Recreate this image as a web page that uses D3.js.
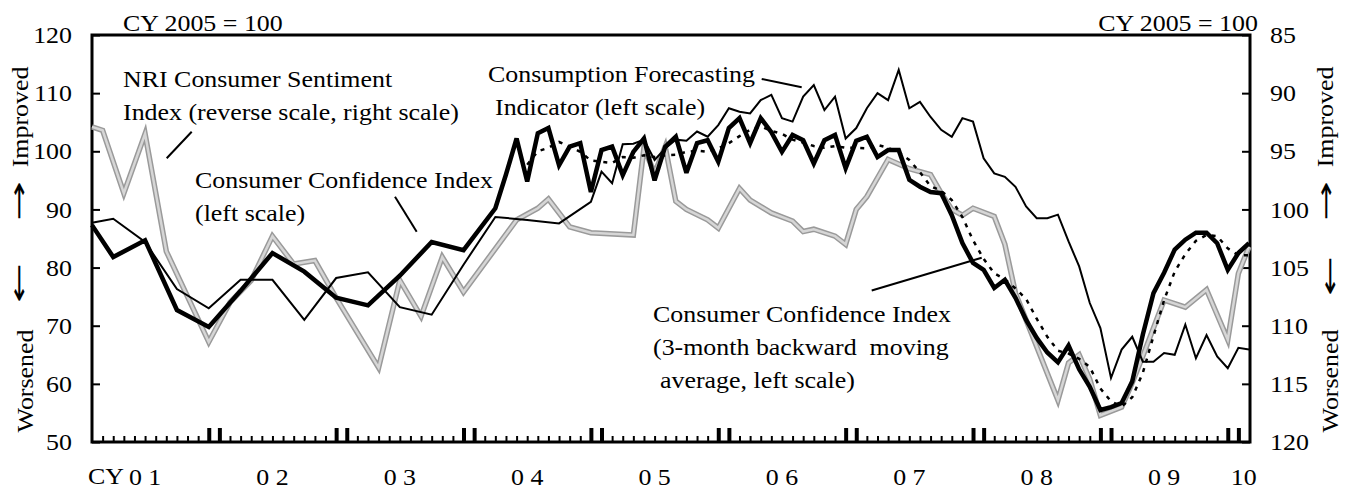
<!DOCTYPE html>
<html>
<head>
<meta charset="utf-8">
<script src="https://cdn.jsdelivr.net/npm/d3@7"></script>
<style>
  body { margin: 0; background: #fff; }
  svg { display: block; font-family: "Liberation Serif", "Times New Roman", serif; }
</style>
</head>
<body>
<div id="chart"></div>
<script>
const width = 1351;
const height = 491;

// month categories, Jan 2001 .. Feb 2010
const months = d3.timeMonth.range(new Date(2001, 0, 1), new Date(2010, 2, 1)).map(d3.timeFormat("%Y-%m"));

// year labels under the axis and the month they sit on
const yearLabels = ["0 1", "0 2", "0 3", "0 4", "0 5", "0 6", "0 7", "0 8", "0 9", "10"];
const yearLabelMonths = ["2001-06", "2002-06", "2003-06", "2004-06", "2005-06", "2006-06", "2007-06", "2008-06", "2009-06", "2010-01"];

const leftTicks = [50, 60, 70, 80, 90, 100, 110, 120];
const rightTicks = [85, 90, 95, 100, 105, 110, 115, 120];

// Consumer Confidence Index (quarterly until Mar 2004, monthly after)
const cci = [
  87.3, null, 81.8, null, null, 84.7, null, null, 72.7, null, null, 69.8,
  null, null, 76.0, null, null, 82.5, null, null, 79.3, null, null, 74.8,
  null, null, 73.5, null, null, 78.6, null, null, 84.4, null, null, 83.0,
  null, null, 90.2, 96.0, 102.2, 94.8, 103.1, 104.0, 97.6, 100.8, 101.4, 93.0,
  100.2, 100.8, 95.9, 99.9, 102.2, 95.0, 100.8, 102.5, 96.3, 101.4, 101.9, 98.2,
  104.0, 105.7, 101.4, 105.7, 103.3, 99.9, 102.8, 101.9, 97.9, 101.9, 102.8, 97.1,
  101.8, 102.5, 99.0, 100.2, 100.2, 95.1, 93.9, 93.0, 92.8, 89.0, 84.2, 80.8,
  79.6, 76.5, 77.9, 74.8, 71.0, 67.9, 65.4, 63.7, 66.6, 62.5, 59.5, 55.5,
  56.0, 56.7, 60.4, 68.5, 75.6, 79.1, 83.1, 84.8, 86.0, 86.0, 84.2, 79.6,
  82.5, 84.2
];

// Consumer Confidence Index, 3-month backward moving average
const cciAvg = [
  null, null, null, null, null, null, null, null, null, null, null, null,
  null, null, null, null, null, null, null, null, null, null, null, null,
  null, null, null, null, null, null, null, null, null, null, null, null,
  null, null, null, null, null, 97.7, 100.0, 100.6, 101.6, 100.8, 99.9, 98.4,
  98.2, 98.0, 99.0, 98.9, 99.3, 99.0, 99.3, 99.4, 99.9, 100.1, 99.9, 100.5,
  101.4, 102.6, 103.7, 104.3, 103.5, 103.0, 102.0, 101.5, 100.9, 100.6, 100.9, 100.6,
  100.6, 100.5, 101.1, 100.6, 99.8, 98.5, 96.4, 94.0, 93.2, 91.6, 88.7, 84.7,
  81.5, 79.0, 78.0, 76.4, 74.6, 71.2, 68.1, 65.7, 65.2, 64.3, 62.9, 59.2,
  57.0, 56.1, 57.7, 61.9, 68.2, 74.4, 79.3, 82.3, 84.6, 85.6, 85.4, 83.3,
  82.1, 82.1
];

// Consumption Forecasting Indicator
const cfi = [
  87.7, null, 88.4, null, null, 84.4, null, null, 76.3, null, null, 73.0,
  null, null, 77.9, null, null, 77.9, null, null, 71.0, null, null, 78.2,
  null, null, 79.2, null, null, 73.2, null, null, 71.9, null, null, 80.5,
  null, null, 88.7, null, null, 88.2, null, null, 87.6, null, null, 91.3,
  96.5, 94.5, 101.2, 101.3, 102.0, 98.5, 100.5, 102.0, 101.8, 103.4, 102.5, 104.5,
  107.4, 106.8, 106.5, 108.8, 109.7, 105.7, 105.1, 109.4, 111.4, 107.1, 109.4, 102.2,
  104.0, 107.4, 110.0, 108.8, 114.0, 107.4, 108.5, 105.9, 103.7, 102.5, 105.7, 105.1,
  98.8, 96.2, 95.6, 93.9, 90.5, 88.5, 88.5, 89.1, 84.5, 80.2, 73.9, 69.6,
  61.0, 65.9, 68.1, 63.8, 63.8, 65.3, 65.0, 70.2, 64.4, 68.4, 64.7, 62.7,
  66.2, 65.9
];

// NRI Consumer Sentiment Index (right scale, reversed)
const nri = [
  92.9, 93.2, null, 98.6, null, 93.5, null, 103.6, null, null, null, 111.4,
  null, 108.0, null, 106.1, null, 102.3, null, 104.7, null, 104.4, null, 107.6,
  null, null, null, 113.6, null, 106.1, null, 109.2, null, 104.1, null, 107.1,
  null, null, null, null, 100.9, null, 99.9, 99.1, null, 101.5, null, 102.0,
  null, null, null, 102.2, 94.7, 96.9, 94.6, 99.3, 100.0, null, 100.9, 101.6,
  null, 98.2, 99.2, null, 100.3, null, 101.0, 101.9, 101.7, null, 102.3, 103.0,
  100.0, 98.9, null, 95.7, null, 96.5, null, 97.0, 98.6, 100.0, 100.5, 99.9,
  null, 100.6, 103.0, 107.2, null, null, null, 116.4, 113.2, 112.5, 114.6, 117.7,
  null, 117.0, 114.9, 112.6, null, 107.8, null, 108.4, null, 106.9, null, 111.2,
  105.5, 103.2
];

const plot = { left: 92, right: 1250, top: 35, bottom: 442 };
const fontSize = 24;
const sx = 1.08; // the original type is a bit wider than Times

const x = d3.scalePoint().domain(months).range([plot.left, plot.right - 1]);
const yLeft = d3.scaleLinear().domain([50, 120]).range([plot.bottom, plot.top]);
const yRight = d3.scaleLinear().domain([85, 120]).range([plot.top, plot.bottom]);

const svg = d3.select('#chart').append('svg')
  .attr('width', width)
  .attr('height', height)
  .attr('font-size', fontSize);

// plain text helper, optionally rotated
function label(px, py, str, anchor = 'start', rot = 0, stretch = sx) {
  return svg.append('text')
    .attr('transform', `translate(${px},${py}) rotate(${rot}) scale(${stretch},1)`)
    .attr('text-anchor', anchor)
    .text(str);
}

// x axis: monthly ticks, heavy ticks around each new year
const gx = svg.append('g')
  .attr('transform', `translate(0,${plot.bottom})`)
  .call(d3.axisBottom(x).tickValues(months.slice(1, 109)).tickSize(-6).tickSizeOuter(0).tickFormat(''));
gx.select('.domain').remove();
gx.selectAll('.tick line').attr('stroke-width', 2);
gx.selectAll('.tick').filter(d => d.endsWith('-12') || d.endsWith('-01'))
  .select('line').attr('y2', -14).attr('stroke-width', 4);

// left axis
const gl = svg.append('g')
  .attr('transform', `translate(${plot.left},0)`)
  .call(d3.axisLeft(yLeft).tickValues(leftTicks).tickSize(-8).tickPadding(18.5));
gl.select('.domain').remove();
gl.attr('font-size', fontSize).attr('font-family', null);
gl.selectAll('.tick line').attr('stroke-width', 2);
gl.selectAll('text').attr('transform', `scale(${sx},1)`);

// right axis (reverse scale)
const gr = svg.append('g')
  .attr('transform', `translate(${plot.right},0)`)
  .call(d3.axisRight(yRight).tickValues(rightTicks).tickSize(-8).tickPadding(18.5));
gr.select('.domain').remove();
gr.attr('font-size', fontSize).attr('font-family', null);
gr.selectAll('.tick line').attr('stroke-width', 2);
gr.selectAll('text').attr('transform', `scale(${sx},1)`);

// frame
svg.append('rect')
  .attr('x', plot.left).attr('y', plot.top)
  .attr('width', plot.right - plot.left).attr('height', plot.bottom - plot.top)
  .attr('fill', 'none').attr('stroke', 'black').attr('stroke-width', 3);

// keep only the months that have a value
function points(values) {
  return months.map((m, i) => [m, values[i]]).filter(d => d[1] !== null);
}

const lineLeft = d3.line().x(d => x(d[0])).y(d => yLeft(d[1]));
const lineRight = d3.line().x(d => x(d[0])).y(d => yRight(d[1]));

// NRI: grey textured band, drawn as two strokes
svg.append('path').datum(points(nri))
  .attr('d', lineRight).attr('fill', 'none')
  .attr('stroke', '#9a9a9a').attr('stroke-width', 5.5).attr('stroke-linejoin', 'miter');
svg.append('path').datum(points(nri))
  .attr('d', lineRight).attr('fill', 'none')
  .attr('stroke', '#d6d6d6').attr('stroke-width', 2.5).attr('stroke-linejoin', 'miter');

svg.append('path').datum(points(cfi))
  .attr('d', lineLeft).attr('fill', 'none')
  .attr('stroke', 'black').attr('stroke-width', 2);

svg.append('path').datum(points(cci))
  .attr('d', lineLeft).attr('fill', 'none')
  .attr('stroke', 'black').attr('stroke-width', 4.5).attr('stroke-miterlimit', 3);

svg.append('path').datum(points(cciAvg))
  .attr('d', lineLeft).attr('fill', 'none')
  .attr('stroke', 'black').attr('stroke-width', 2.5).attr('stroke-dasharray', '4,6');

// year labels
yearLabels.forEach((t, i) => {
  const px = x(yearLabelMonths[i]) + (t === '10' ? x.step() / 2 : 0);
  label(px, 485, t, 'middle');
});
label(88, 484, 'CY');

// units
label(123, 31, 'CY 2005 = 100');
label(1258, 31, 'CY 2005 = 100', 'end');

// side captions, rotated
label(28, 117, 'Improved', 'middle', -90);
label(33, 381, 'Worsened', 'middle', -90);
label(1333, 117, 'Improved', 'middle', -90);
label(1338, 381, 'Worsened', 'middle', -90);

// arrows, long and thin like the original
const arrows = [[27, 201, '\u2192'], [27, 283, '\u2190'], [1334, 201, '\u2192'], [1338, 276, '\u2190']];
arrows.forEach(([ax, ay, ch]) => {
  label(ax, ay, ch, 'middle', -90, 2.0).attr('font-family', 'DejaVu Sans');
});

// annotations
label(123, 87, 'NRI Consumer Sentiment');
label(123, 120, 'Index (reverse scale, right scale)');
label(195, 188, 'Consumer Confidence Index');
label(195, 221, '(left scale)');
label(488, 82, 'Consumption Forecasting');
label(495, 115, 'Indicator (left scale)');
label(653, 322, 'Consumer Confidence Index');
label(653, 355, '(3-month backward\u00a0 moving');
label(660, 388, 'average, left scale)');

// leader lines
const leaders = [
  [191.7, 131.7, 166.7, 158.3],
  [395, 196.7, 416.7, 231.7],
  [761.7, 79, 801.7, 87.3],
  [871.7, 290.5, 981.7, 257.8]
];
svg.selectAll('.leader').data(leaders).enter().append('line')
  .attr('class', 'leader')
  .attr('x1', d => d[0]).attr('y1', d => d[1])
  .attr('x2', d => d[2]).attr('y2', d => d[3])
  .attr('stroke', 'black').attr('stroke-width', 2);
</script>
</body>
</html>
